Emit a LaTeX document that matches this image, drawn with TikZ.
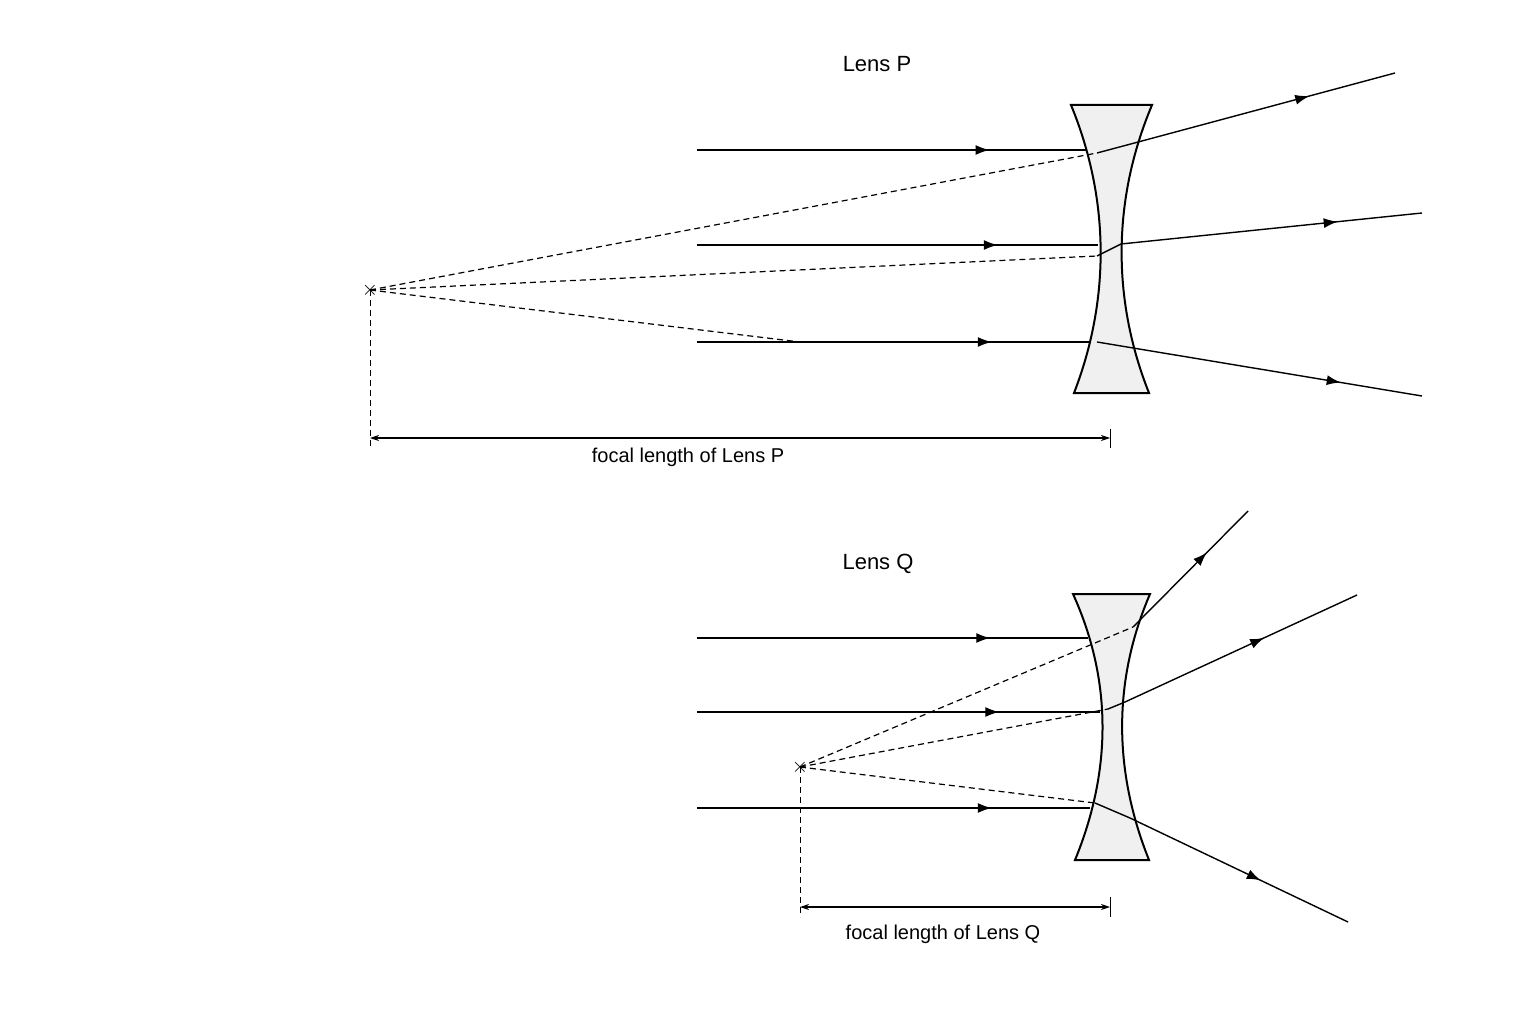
\documentclass[tikz,border=0pt]{standalone}
\usepackage{fontspec}
\setmainfont{Liberation Sans}
\usetikzlibrary{arrows.meta,decorations.markings}
\begin{document}
\begin{tikzpicture}[x=1pt,y=-1pt,
  ray/.style={line width=1.4pt},
  dashray/.style={line width=1.2pt,dash pattern=on 6pt off 4pt},
  mid/.style={postaction={decorate},decoration={markings,mark=at position #1 with {\arrow{Latex[length=14pt,width=10pt]}}}},
  lens/.style={line width=2pt,fill=gray!12},
  dim/.style={line width=1.1pt,{Stealth[length=9pt,width=6pt]}-{Stealth[length=9pt,width=6pt]}},
  lbl/.style={font=\fontsize{22}{26}\selectfont},
  dlbl/.style={font=\fontsize{20}{24}\selectfont}]
\useasboundingbox (0,0) rectangle (1536,1024);
% Lens P
\draw[lens] (1071,105) -- (1152,105) .. controls (1112,200) and (1112,300) .. (1149,393) -- (1074,393) .. controls (1110,300) and (1110,200) .. cycle;
\node[lbl] (lp) at (877,64) {Lens P};
\coordinate (fp) at (370,290);
\node[inner sep=0,font=\fontsize{20}{20}\selectfont] (xp) at (fp) {$\times$};
\draw[ray,mid=0.75] (697,150) -- (1087,150);
\draw[dashray] (fp) -- (1097,153);
\draw[ray] (1097,153) -- (1127,145);
\draw[ray,mid=0.68] (1127,145) -- (1395,73);
\draw[ray,mid=0.75] (697,245) -- (1098,245);
\draw[dashray] (fp) -- (1097,256);
\draw[ray] (1097,256) -- (1121,244);
\draw[ray,mid=0.72] (1121,244) -- (1422,213);
\draw[ray,mid=0.75] (697,342) -- (1090,342);
\draw[dashray] (fp) -- (800,342);
\draw[ray,mid=0.75] (1097,342) -- (1422,396);
\draw[dashray,line width=1pt] (fp) -- (370,448);
\draw[line width=1pt] (1110,429) -- (1110,448);
\draw[dim] (370,438) -- (1110,438);
\node[dlbl] (dp) at (688,457) {focal length of Lens P};
% Lens Q
\draw[lens] (1073,594) -- (1150,594) .. controls (1113,680) and (1113,770) .. (1149,860) -- (1075,860) .. controls (1112,770) and (1112,680) .. cycle;
\node[lbl] (lq) at (878,564) {Lens Q};
\coordinate (fq) at (800,767);
\node[inner sep=0,font=\fontsize{20}{20}\selectfont] (xq) at (fq) {$\times$};
\draw[ray,mid=0.75] (697,638) -- (1088,638);
\draw[dashray] (fq) -- (1133,627);
\draw[ray] (1133,627) -- (1140,620);
\draw[ray,mid=0.62] (1140,620) -- (1248,511);
\draw[ray,mid=0.75] (697,712) -- (1100,712);
\draw[dashray] (fq) -- (1108,709);
\draw[ray] (1108,709) -- (1125,702);
\draw[ray,mid=0.6] (1125,702) -- (1357,595);
\draw[ray,mid=0.75] (697,808) -- (1090,808);
\draw[dashray] (fq) -- (1095,803);
\draw[ray] (1095,803) -- (1130,818);
\draw[ray,mid=0.6] (1130,818) -- (1348,922);
\draw[dashray,line width=1pt] (fq) -- (800,917);
\draw[line width=1pt] (1110,897) -- (1110,917);
\draw[dim] (800,907) -- (1110,907);
\node[dlbl] (dq) at (943,934) {focal length of Lens Q};
\end{tikzpicture}
\end{document}
